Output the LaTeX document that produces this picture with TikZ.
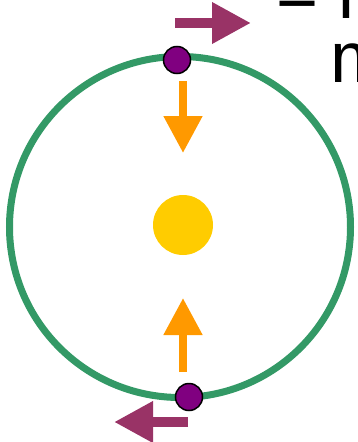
\documentclass[tikz,border=0pt]{standalone}
\usepackage{fontspec}
\setmainfont{Liberation Sans}
\usetikzlibrary{arrows.meta}
\definecolor{orbitgreen}{RGB}{51,153,102}
\definecolor{dotpurple}{RGB}{128,0,128}
\definecolor{velpurple}{RGB}{153,51,102}
\definecolor{forceorange}{RGB}{255,153,0}
\definecolor{sunyellow}{RGB}{255,204,0}
\tikzset{
  orbit/.style={draw=orbitgreen,line width=7pt},
  planet/.style={circle,fill=dotpurple,draw=black,line width=1.5pt,minimum size=27pt,inner sep=0pt},
  sun/.style={circle,fill=sunyellow,minimum size=60pt,inner sep=0pt},
  velarrow/.style={draw=velpurple,line width=10pt,-{Triangle[length=39pt,width=39pt]}},
  forcearrow/.style={draw=forceorange,line width=8pt,-{Triangle[length=37pt,width=37pt]}},
  handtext/.style={inner sep=0pt,font=\fontsize{72}{80}\selectfont}
}
\begin{document}
\begin{tikzpicture}[x=1pt,y=-1pt]
\useasboundingbox (0,0) rectangle (358,442);
\clip (0,0) rectangle (358,442);
\node[circle,minimum size=341pt,inner sep=0pt,orbit] (orbit) at (180,227) {};
\node[sun] (sun) at (183,225) {};
\node[planet] (ptop) at (177,60) {};
\node[planet] (pbot) at (189,397) {};
\coordinate (ftopS) at (183,81);
\coordinate (ftopE) at (183,153);
\coordinate (fbotS) at (183,372);
\coordinate (fbotE) at (183,298);
\draw[forcearrow] (ftopS) -- (ftopE);
\draw[forcearrow] (fbotS) -- (fbotE);
\coordinate (vtopS) at (175,23);
\coordinate (vtopE) at (251,23);
\coordinate (vbotS) at (188,422);
\coordinate (vbotE) at (114,422);
\draw[velarrow] (vtopS) -- (vtopE);
\draw[velarrow] (vbotS) -- (vbotE);
\node[handtext,anchor=base west] (line1) at (276,18) {= i};
\node[handtext,anchor=base west] (line2) at (330,82) {m};
\end{tikzpicture}
\end{document}
